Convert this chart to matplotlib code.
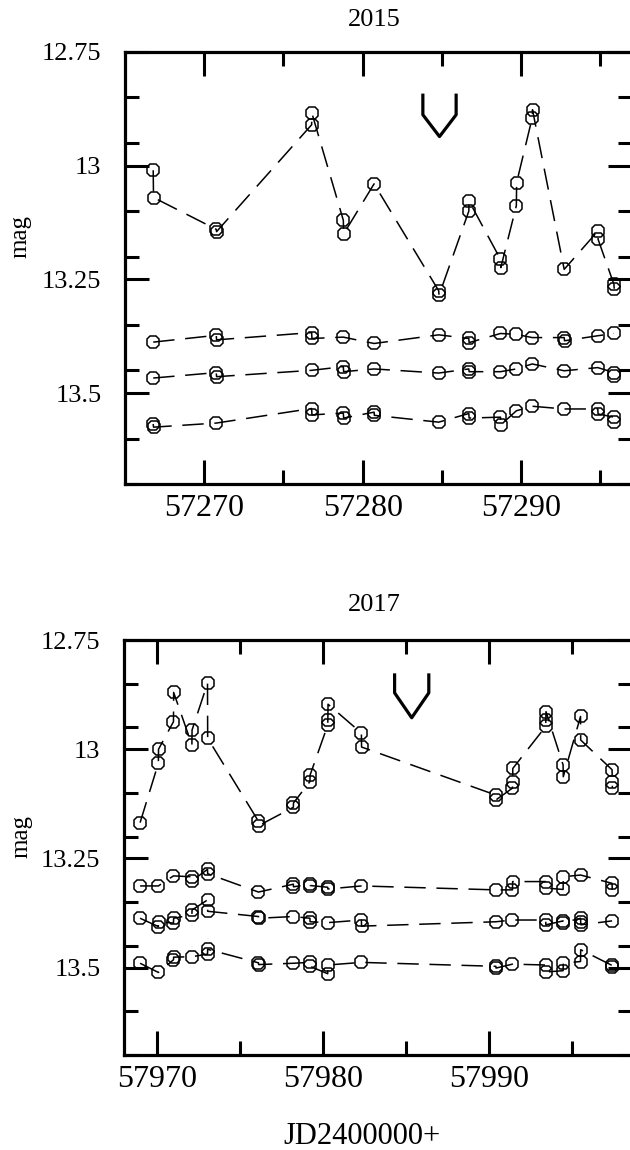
import numpy as np
import matplotlib
matplotlib.use("Agg")
import matplotlib.pyplot as plt
from matplotlib.ticker import FixedLocator, FixedFormatter

plt.rcParams['font.family'] = ['Liberation Serif', 'DejaVu Serif']

# ---- 2015 season ----
jd15_var = [57266.78, 57266.80, 57270.76, 57270.78, 57276.78, 57276.80, 57278.78, 57278.80,
            57280.72, 57284.80, 57284.82, 57286.70, 57286.72, 57288.70, 57288.72, 57289.70,
            57289.72, 57290.70, 57290.72, 57292.72, 57294.84, 57294.86, 57295.86, 57295.88]
mag15_var = [13.010, 13.070, 13.140, 13.145, 12.910, 12.885, 13.120, 13.150,
             13.040, 13.275, 13.285, 13.100, 13.078, 13.206, 13.224, 13.088,
             13.037, 12.895, 12.877, 13.228, 13.144, 13.162, 13.261, 13.272]

jd15_c1 = [57266.78, 57270.76, 57270.78, 57276.78, 57276.80, 57278.78, 57280.72, 57284.80,
           57286.70, 57286.72, 57288.70, 57289.70, 57290.70, 57292.72, 57292.74, 57294.84, 57295.86]
mag15_c1 = [13.388, 13.373, 13.383, 13.367, 13.380, 13.377, 13.391, 13.372,
            13.380, 13.389, 13.369, 13.371, 13.378, 13.378, 13.385, 13.374, 13.369]

jd15_c2 = [57266.78, 57270.76, 57270.78, 57276.78, 57278.78, 57278.80, 57280.72, 57284.80,
           57286.70, 57286.72, 57288.70, 57289.70, 57290.70, 57292.72, 57294.84, 57295.86, 57295.88]
mag15_c2 = [13.467, 13.455, 13.464, 13.450, 13.442, 13.453, 13.447, 13.456,
            13.447, 13.453, 13.453, 13.447, 13.436, 13.451, 13.444, 13.455, 13.462]

jd15_c3 = [57266.78, 57266.80, 57270.76, 57276.78, 57276.80, 57278.78, 57278.80, 57280.72,
           57280.74, 57284.80, 57286.70, 57286.72, 57288.70, 57288.72, 57289.70, 57290.70,
           57292.72, 57294.84, 57294.86, 57295.86, 57295.88]
mag15_c3 = [13.568, 13.575, 13.566, 13.534, 13.548, 13.544, 13.555, 13.542,
            13.549, 13.564, 13.545, 13.555, 13.553, 13.570, 13.539, 13.529,
            13.535, 13.535, 13.546, 13.553, 13.564]

# ---- 2017 season ----
jd17_var = [57968.97, 57970.07, 57970.08, 57970.98, 57970.99, 57972.09, 57972.10, 57973.03,
            57973.04, 57976.10, 57976.11, 57978.20, 57978.21, 57979.20, 57979.21, 57980.27,
            57980.28, 57980.29, 57982.30, 57982.31, 57990.40, 57990.41, 57991.40, 57991.41,
            57991.42, 57993.40, 57993.41, 57993.42, 57994.45, 57994.46, 57995.50, 57995.51,
            57997.40, 57997.41, 57997.42]
mag17_var = [13.168, 13.032, 13.000, 12.937, 12.870, 12.990, 12.956, 12.849,
             12.975, 13.165, 13.175, 13.133, 13.123, 13.074, 13.059, 12.945,
             12.933, 12.897, 12.963, 12.995, 13.105, 13.116, 13.089, 13.074,
             13.044, 12.948, 12.933, 12.914, 13.036, 13.063, 12.925, 12.979,
             13.047, 13.074, 13.089]

jd17_c1 = [57968.97, 57970.07, 57970.98, 57972.09, 57972.10, 57973.03, 57973.04, 57976.10,
           57978.20, 57978.21, 57979.20, 57979.21, 57980.27, 57980.28, 57982.30, 57990.40,
           57991.40, 57991.41, 57993.40, 57993.41, 57994.45, 57994.46, 57995.50, 57997.40, 57997.41]
mag17_c1 = [13.313, 13.313, 13.290, 13.292, 13.301, 13.275, 13.285, 13.327,
            13.309, 13.315, 13.309, 13.312, 13.316, 13.320, 13.313, 13.322,
            13.322, 13.303, 13.303, 13.318, 13.321, 13.292, 13.288, 13.307, 13.322]

jd17_c2 = [57968.97, 57970.07, 57970.08, 57970.98, 57970.99, 57972.09, 57972.10, 57973.03,
           57973.04, 57976.10, 57976.11, 57978.20, 57979.20, 57979.21, 57980.27, 57982.30,
           57982.31, 57990.40, 57991.40, 57993.40, 57993.41, 57994.45, 57994.46, 57995.50,
           57995.51, 57995.52, 57997.40]
mag17_c2 = [13.387, 13.406, 13.395, 13.398, 13.387, 13.379, 13.368, 13.345,
            13.371, 13.383, 13.387, 13.383, 13.387, 13.395, 13.397, 13.391,
            13.405, 13.395, 13.391, 13.391, 13.402, 13.393, 13.397, 13.387,
            13.395, 13.402, 13.393]

jd17_c3 = [57968.97, 57970.07, 57970.98, 57970.99, 57972.09, 57973.03, 57973.04, 57976.10,
           57976.11, 57978.20, 57979.20, 57979.21, 57980.27, 57980.28, 57982.30, 57990.40,
           57990.41, 57991.40, 57993.40, 57993.41, 57994.45, 57994.46, 57995.50, 57995.51,
           57997.40, 57997.41]
mag17_c3 = [13.490, 13.511, 13.482, 13.476, 13.475, 13.469, 13.458, 13.489,
            13.493, 13.490, 13.488, 13.497, 13.514, 13.494, 13.488, 13.497,
            13.501, 13.492, 13.494, 13.510, 13.507, 13.490, 13.486, 13.459,
            13.495, 13.499]

# "V" markers
v15_x = [57283.8, 57283.8, 57284.85, 57285.9, 57285.9]
v15_y = [12.845, 12.888, 12.936, 12.888, 12.845]
v17_x = [57984.3, 57984.3, 57985.33, 57986.36, 57986.36]
v17_y = [12.830, 12.871, 12.928, 12.871, 12.830]

ytick_vals = [12.75, 13.0, 13.25, 13.5]
ytick_labels = ["12.75", "13", "13.25", "13.5"]

fig = plt.figure(figsize=(6.3, 11.5), dpi=100)
W, H = 630.0, 1150.0


def make_axes(left, top, right, bottom):
    return fig.add_axes([left / W, 1 - bottom / H, (right - left) / W, (bottom - top) / H])


def style(ax, xlim, xmaj, xmin):
    ax.set_xlim(*xlim)
    ax.set_ylim(13.7, 12.75)
    ax.xaxis.set_major_locator(FixedLocator(xmaj))
    ax.xaxis.set_minor_locator(FixedLocator(xmin))
    ax.set_xticklabels([str(v) for v in xmaj])
    ax.yaxis.set_major_locator(FixedLocator(ytick_vals))
    ax.yaxis.set_major_formatter(FixedFormatter(ytick_labels))
    ymin = [v + d for v in ytick_vals for d in (0.1, 0.2)]
    ax.yaxis.set_minor_locator(FixedLocator(ymin))
    for s in ax.spines.values():
        s.set_linewidth(2.3)
    ax.tick_params(which='both', direction='in', top=True, right=True, width=2.2)
    ax.tick_params(which='major', length=17)
    ax.tick_params(which='minor', length=10)
    ax.tick_params(axis='x', labelsize=23, pad=7)
    ax.tick_params(axis='y', labelsize=19, pad=17)


def draw(ax, x, y):
    ax.plot(x, y, color='black', lw=1.1, ls=(0, (14, 7)), marker='8', ms=10,
            mfc='none', mec='black', mew=1.1, clip_on=False)


ax1 = make_axes(125, 52, 632, 484)
for x, y in [(jd15_var, mag15_var), (jd15_c1, mag15_c1), (jd15_c2, mag15_c2), (jd15_c3, mag15_c3)]:
    draw(ax1, x, y)
ax1.plot(v15_x, v15_y, color='black', lw=2.3)
style(ax1, (57265, 57297), [57270, 57280, 57290], [57275, 57285, 57295])

ax2 = make_axes(124, 640, 632, 1055)
for x, y in [(jd17_var, mag17_var), (jd17_c1, mag17_c1), (jd17_c2, mag17_c2), (jd17_c3, mag17_c3)]:
    draw(ax2, x, y)
ax2.plot(v17_x, v17_y, color='black', lw=2.3)
style(ax2, (57968, 57998.6), [57970, 57980, 57990], [57975, 57985, 57995])

fig.text(374 / W, 1 - 20 / H, "2015", ha='center', va='center', fontsize=19)
fig.text(374 / W, 1 - 605 / H, "2017", ha='center', va='center', fontsize=19)
fig.text(20 / W, 1 - 237 / H, "mag", rotation=90, ha='center', va='center', fontsize=18)
fig.text(21 / W, 1 - 837 / H, "mag", rotation=90, ha='center', va='center', fontsize=18)
fig.text(362 / W, 1 - 1137 / H, "JD2400000+", ha='center', va='center', fontsize=22)

fig.savefig("out.png", dpi=100)
